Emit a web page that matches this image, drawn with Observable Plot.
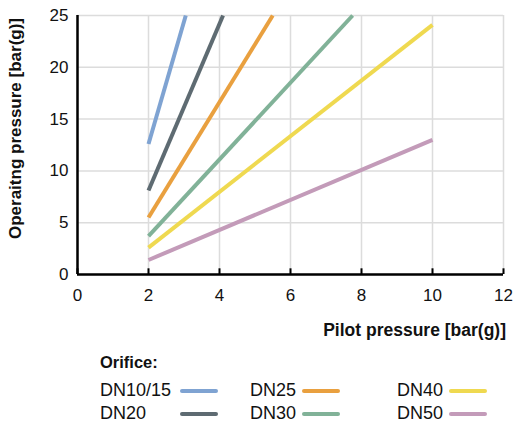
<!DOCTYPE html>
<html><head><meta charset="utf-8">
<script src="https://cdn.jsdelivr.net/npm/d3@7"></script>
<script src="https://cdn.jsdelivr.net/npm/@observablehq/plot@0.6"></script>
<style>
body{margin:0;background:#fff;font-family:"Liberation Sans",Arial,sans-serif;}
#wrap{position:relative;width:515px;height:424px;}
#chart{position:absolute;left:0;top:0;}
#xlabel{position:absolute;top:320px;right:9px;font-size:17.5px;line-height:20px;font-weight:bold;color:#111;}
.item{position:absolute;white-space:nowrap;font-size:18px;line-height:20px;color:#111;}
.lt{font-weight:bold;font-size:16.5px;}
.sw{position:absolute;height:4px;border-radius:2px;}
</style></head>
<body><div id="wrap"><div id="chart"></div><div id="xlabel">Pilot pressure [bar(g)]</div><div id="legend"></div></div>
<script>
const series = ["DN10/15","DN20","DN25","DN30","DN40","DN50"];
const colors = ["#7fa3d2","#5e6b72","#e9a03f","#81b298","#efd950","#c39bb9"];
const pilotStart = [2,2,2,2,2,2];
const pilotEnd = [3.05,4.1,5.5,7.75,10,10];
const opStart = [12.6,8.1,5.5,3.7,2.6,1.4];
const opEnd = [25,25,25,25,24.1,13.0];
const xTicks = [0,2,4,6,8,10,12];
const yTicks = [0,5,10,15,20,25];

const data = [];
series.forEach((s,i)=>{
  data.push({s, x:pilotStart[i], y:opStart[i]});
  data.push({s, x:pilotEnd[i], y:opEnd[i]});
});

const chart = Plot.plot({
  width:515, height:310,
  marginLeft:77, marginRight:12, marginTop:15, marginBottom:36,
  style:{fontFamily:"Liberation Sans, Arial, sans-serif", fontSize:"17px", color:"#111"},
  x:{domain:[0,12]},
  y:{domain:[0,25]},
  color:{domain:series, range:colors},
  marks:[
    Plot.gridX(xTicks,{stroke:"#dcdcdc", strokeOpacity:1, strokeWidth:1.5}),
    Plot.gridY(yTicks,{stroke:"#dcdcdc", strokeOpacity:1, strokeWidth:1.5}),
    Plot.line(data,{x:"x", y:"y", z:"s", stroke:"s", strokeWidth:4, strokeLinecap:"butt"}),
    Plot.ruleX(xTicks,{x:d=>d, y1:0, y2:0.55, stroke:"#000", strokeWidth:2}),
    Plot.ruleY([0],{stroke:"#000", strokeWidth:2.5}),
    Plot.ruleX([0],{stroke:"#000", strokeWidth:2.5}),
    Plot.axisX(xTicks,{tickSize:0, tickPadding:14, label:null, fontSize:17}),
    Plot.axisY(yTicks,{tickSize:0, tickPadding:9, label:"Operaitng pressure [bar(g)]", labelAnchor:"center", labelArrow:"none", labelOffset:69, fontSize:17})
  ]
});
document.getElementById("chart").appendChild(chart);
d3.select(chart).selectAll('[aria-label="y-axis label"] text').each(function(){
  const el = d3.select(this);
  const tr = el.attr("transform") || "";
  const m = tr.match(/translate\(([-\d.]+),\s*([-\d.]+)\)/);
  const x = m ? +m[1] : 10;
  el.attr("transform", `translate(${x},128) rotate(-90)`)
    .style("font-weight","bold").style("font-size","17px");
});

const leg = document.getElementById("legend");
const t0 = document.createElement("div");
t0.className="item lt"; t0.textContent="Orifice:";
t0.style.left="100px"; t0.style.top="352px";
leg.appendChild(t0);
const colX = [100,250,397];
const swX = [180,302,449];
const rowY = [390,413];
series.forEach((s,i)=>{
  const c = Math.floor(i/2), r = i%2;
  const t = document.createElement("div");
  t.className="item"; t.textContent=s;
  t.style.left=colX[c]+"px"; t.style.top=(rowY[r]-10)+"px";
  leg.appendChild(t);
  const sw = document.createElement("div");
  sw.className="sw"; sw.style.background=colors[i];
  sw.style.left=swX[c]+"px"; sw.style.width="38px"; sw.style.top=(rowY[r]-1)+"px";
  leg.appendChild(sw);
});
</script></body></html>
